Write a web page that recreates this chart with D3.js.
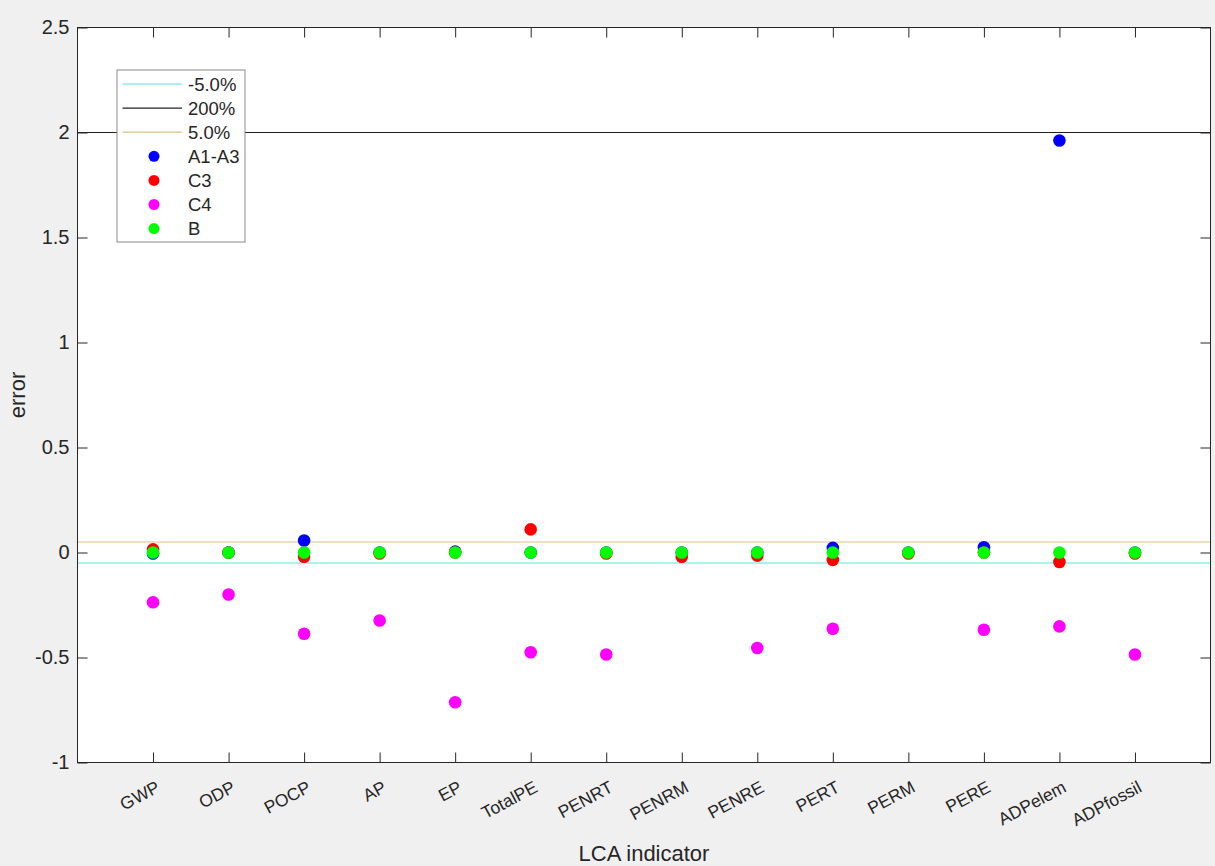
<!DOCTYPE html>
<html><head><meta charset="utf-8">
<script src="https://cdn.jsdelivr.net/npm/d3@7"></script>
<style>body{margin:0;background:#f0f0f0;} svg{display:block;font-family:"Liberation Sans",Arial,sans-serif;}</style>
</head><body><svg id="c" width="1215" height="866"></svg>
<script>
const categories = ["GWP","ODP","POCP","AP","EP","TotalPE","PENRT","PENRM","PENRE","PERT","PERM","PERE","ADPelem","ADPfossil"];
const a1a3 = [-0.005, 0, 0.057, 0, 0.004, 0, 0, 0, 0, 0.022, 0, 0.025, 1.962, 0];
const c3   = [0.015, 0, -0.02, -0.005, 0, 0.11, -0.005, -0.02, -0.015, -0.035, -0.005, 0, -0.045, -0.005];
const c4   = [-0.237, -0.20, -0.387, -0.324, -0.713, -0.475, -0.486, null, -0.455, -0.363, null, -0.368, -0.352, -0.486];
const bser = [0, 0, 0, 0, 0, 0, 0, 0, 0, 0, 0, 0, 0, 0];
const yTicks = [-1, -0.5, 0, 0.5, 1, 1.5, 2, 2.5];
const refLines = [{label:"-5.0%", value:-0.05, color:"#55e6e0"},{label:"200%", value:2, color:"#222222"},{label:"5.0%", value:0.05, color:"#dcc080"}];
const series = [{label:"A1-A3", values:a1a3, color:"#0000ff"},{label:"C3", values:c3, color:"#ff0000"},{label:"C4", values:c4, color:"#ff00ff"},{label:"B", values:bser, color:"#00ff00"}];

const svg = d3.select("#c");
const L=77.5, R=1210.5, T=27.5, B=762.5;
const x = d3.scaleLinear().domain([0,15]).range([L,R]);
const y = d3.scaleLinear().domain([-1,2.5]).range([B,T]);
const axisCol="#262626";
const fmt = d => String(d);

svg.append("rect").attr("x",L).attr("y",T).attr("width",R-L).attr("height",B-T).attr("fill","#fff");

refLines.forEach(r=>{
  svg.append("line").attr("x1",L).attr("x2",R).attr("y1",y(r.value)).attr("y2",y(r.value))
    .attr("stroke",r.color).attr("stroke-width",1.2);
});

series.forEach(s=>{
  svg.append("g").selectAll("circle").data(s.values.map((v,i)=>({v,i})).filter(d=>d.v!==null))
    .join("circle").attr("cx",d=>x(d.i+1)).attr("cy",d=>y(d.v)).attr("r",6.3).attr("fill",s.color);
});

svg.append("rect").attr("x",L).attr("y",T).attr("width",R-L).attr("height",B-T).attr("fill","none").attr("stroke",axisCol).attr("stroke-width",1);

const xa = svg.append("g").attr("transform",`translate(0,${B})`)
  .call(d3.axisBottom(x).tickValues(d3.range(1,15)).tickSize(-10).tickFormat(""));
xa.select(".domain").remove();
xa.selectAll("line").attr("stroke",axisCol);
const xt = svg.append("g").attr("transform",`translate(0,${T})`)
  .call(d3.axisTop(x).tickValues(d3.range(1,15)).tickSize(-10).tickFormat(""));
xt.select(".domain").remove();
xt.selectAll("line").attr("stroke",axisCol);

svg.append("g").selectAll("text").data(categories).join("text")
  .attr("transform",(d,i)=>`translate(${x(i+1)+8},${B+28.5}) rotate(-28)`)
  .attr("text-anchor","end").attr("font-size",17.5).attr("fill","#262626").text(d=>d);

const ya = svg.append("g").attr("transform",`translate(${L},0)`)
  .call(d3.axisLeft(y).tickValues(yTicks).tickSize(-10).tickPadding(8).tickFormat(fmt));
ya.select(".domain").remove();
ya.selectAll("line").attr("stroke",axisCol);
ya.selectAll("text").attr("font-size",20).attr("fill","#262626").attr("font-family","Liberation Sans, Arial, sans-serif");
const yr = svg.append("g").attr("transform",`translate(${R},0)`)
  .call(d3.axisRight(y).tickValues(yTicks).tickSize(-10).tickFormat(""));
yr.select(".domain").remove();
yr.selectAll("line").attr("stroke",axisCol);

svg.append("text").attr("transform",`translate(25,${(T+B)/2}) rotate(-90)`).attr("text-anchor","middle")
  .attr("font-size",22).attr("fill","#262626").text("error");
svg.append("text").attr("x",(L+R)/2).attr("y",861).attr("text-anchor","middle")
  .attr("font-size",22).attr("fill","#262626").text("LCA indicator");

const lg = svg.append("g");
lg.append("rect").attr("x",117).attr("y",70).attr("width",128).attr("height",172).attr("fill","#fff").attr("stroke","#8a8a8a");
const items = refLines.map(r=>({type:"line",...r})).concat(series.map(s=>({type:"dot",...s})));
items.forEach((it,i)=>{
  const yy = 84 + i*24.1;
  if(it.type==="line") lg.append("line").attr("x1",122.5).attr("x2",182).attr("y1",yy).attr("y2",yy).attr("stroke",it.color).attr("stroke-width",1.2);
  else lg.append("circle").attr("cx",154).attr("cy",yy).attr("r",5.5).attr("fill",it.color);
  lg.append("text").attr("x",188).attr("y",yy).attr("dy","0.36em").attr("font-size",18.5).attr("fill","#262626").text(it.label);
});
</script></body></html>
